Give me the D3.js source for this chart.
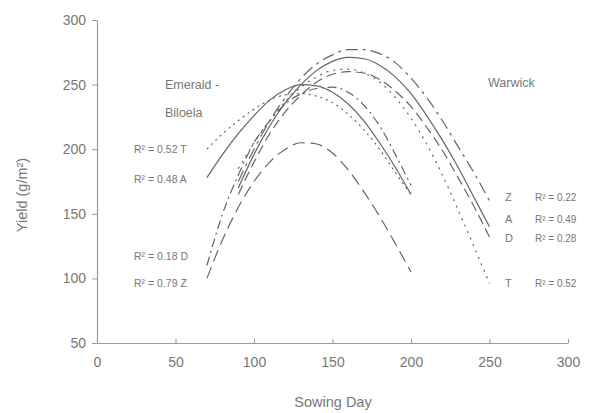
<!DOCTYPE html>
<html>
<head>
<meta charset="utf-8">
<script src="https://cdn.jsdelivr.net/npm/d3@7"></script>
<style>
  body { margin: 0; background: #fff; }
  text { font-family: "Liberation Sans", Arial, sans-serif; fill: #777; }
</style>
</head>
<body>
<div id="chart"></div>
<script>
// sowing days and fitted yields (g/m2)
var emeraldDays = [70, 80, 90, 100, 110, 120, 130, 140, 150, 160, 170, 180, 190, 200];
var emeraldT = [200, 212, 222, 231, 238, 242, 243, 241, 236, 227, 215, 200, 182, 165];
var emeraldA = [178, 196, 212, 226, 238, 246, 250, 249, 244, 235, 222, 205, 186, 165];
var emeraldD = [110, 150, 180, 205, 222, 235, 243, 247, 248, 244, 234, 218, 196, 172];
var emeraldZ = [100, 130, 155, 175, 190, 200, 205, 204, 197, 184, 167, 148, 127, 105];

var warwickDays = [90, 100, 110, 120, 130, 140, 150, 160, 170, 180, 190, 200, 210, 220, 230, 240, 250];
var warwickZ = [175, 200, 222, 240, 255, 266, 273, 277, 277, 274, 267, 255, 240, 222, 202, 182, 160];
var warwickA = [170, 196, 218, 236, 250, 261, 268, 271, 270, 265, 256, 243, 226, 207, 186, 163, 140];
var warwickD = [165, 190, 212, 229, 242, 252, 258, 260, 259, 254, 245, 233, 217, 199, 178, 156, 132];
var warwickT = [185, 205, 222, 237, 248, 256, 261, 262, 259, 252, 240, 224, 204, 180, 153, 125, 96];

var xTicks = [0, 50, 100, 150, 200, 250, 300];
var yTicks = [50, 100, 150, 200, 250, 300];

var emeraldR2 = ["R\u00b2 = 0.52 T", "R\u00b2 = 0.48 A", "R\u00b2 = 0.18 D", "R\u00b2 = 0.79 Z"];
var warwickLetters = ["Z", "A", "D", "T"];
var warwickR2 = ["R\u00b2 = 0.22", "R\u00b2 = 0.49", "R\u00b2 = 0.28", "R\u00b2 = 0.52"];

var svgWidth = 589;
var svgHeight = 413;

var svg = d3.select("#chart")
    .append("svg")
    .attr("width", svgWidth)
    .attr("height", svgHeight);

// scales
var xScale = d3.scaleLinear().domain([0, 300]).range([97, 568]);
var yScale = d3.scaleLinear().domain([50, 300]).range([343, 20]);

// axes
var leftAxis = d3.axisLeft(yScale).tickValues(yTicks).tickSize(5).tickSizeOuter(0).tickPadding(6);
var bottomAxis = d3.axisBottom(xScale).tickValues(xTicks).tickSize(-4).tickSizeOuter(0).tickPadding(14);

var yAxis = svg.append("g")
    .attr("transform", "translate(97,0)")
    .call(leftAxis);

var xAxis = svg.append("g")
    .attr("transform", "translate(0,343)")
    .call(bottomAxis);

[yAxis, xAxis].forEach(function(ax) {
    ax.select(".domain").attr("stroke", "#999").attr("stroke-width", 1.2);
    ax.selectAll(".tick line").attr("stroke", "#999");
    ax.selectAll(".tick text").style("font-size", "14px").attr("fill", "#8a8a8a");
});
xAxis.selectAll(".tick line").filter(function(d) { return d === 0; }).remove();

// curves
var line = d3.line()
    .x(function(d) { return xScale(d[0]); })
    .y(function(d) { return yScale(d[1]); })
    .curve(d3.curveMonotoneX);

var series = [
    { days: emeraldDays, vals: emeraldT, dash: "2,4" },
    { days: emeraldDays, vals: emeraldA, dash: null },
    { days: emeraldDays, vals: emeraldD, dash: "9,4,2,4" },
    { days: emeraldDays, vals: emeraldZ, dash: "12,6" },
    { days: warwickDays, vals: warwickZ, dash: "12,5,3,5" },
    { days: warwickDays, vals: warwickA, dash: null },
    { days: warwickDays, vals: warwickD, dash: "10,5" },
    { days: warwickDays, vals: warwickT, dash: "2,5" }
];

series.forEach(function(s) {
    svg.append("path")
        .datum(s.days.map(function(d, i) { return [d, s.vals[i]]; }))
        .attr("d", line)
        .attr("fill", "none")
        .attr("stroke", "#666")
        .attr("stroke-width", 1.2)
        .attr("stroke-dasharray", s.dash);
});

// site names
svg.append("text").attr("x", 165).attr("y", 89).style("font-size", "12.5px").text("Emerald -");
svg.append("text").attr("x", 165).attr("y", 117).style("font-size", "12.5px").text("Biloela");
svg.append("text").attr("x", 488).attr("y", 87).style("font-size", "12.5px").text("Warwick");

// R2 labels, Emerald (left, at curve start)
emeraldR2.forEach(function(t, i) {
    var yy = [153, 183, 260, 287][i];
    svg.append("text")
        .attr("x", 134)
        .attr("y", yy)
        .style("font-size", "10.5px")
        .text(t);
});

// R2 labels, Warwick (right, at curve end)
warwickLetters.forEach(function(t, i) {
    var yy = [201, 223, 242, 287][i];
    svg.append("text").attr("x", 505).attr("y", yy).style("font-size", "11px").text(t);
    svg.append("text").attr("x", 535).attr("y", yy).style("font-size", "10px").text(warwickR2[i]);
});

// axis titles
svg.append("text")
    .attr("transform", "translate(27,195) rotate(-90)")
    .attr("text-anchor", "middle")
    .style("font-size", "14.5px")
    .text("Yield (g/m\u00b2)");

svg.append("text")
    .attr("x", 333)
    .attr("y", 407)
    .attr("text-anchor", "middle")
    .style("font-size", "14.5px")
    .text("Sowing Day");
</script>
</body>
</html>
